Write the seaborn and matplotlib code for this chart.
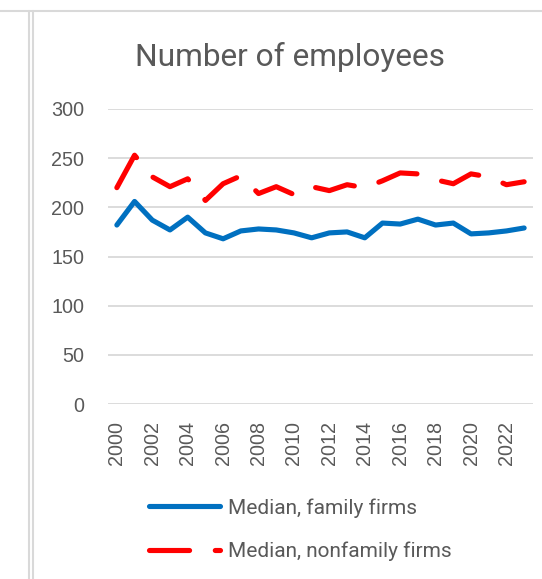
import numpy as np
import pandas as pd
import seaborn as sns
import matplotlib.pyplot as plt
from matplotlib.lines import Line2D

# =====================================================
# data
# =====================================================

YEARS = list(range(2000, 2024))

FAMILY = [182, 206, 187, 177, 190, 174, 168, 176, 178, 177, 174, 169,
          174, 175, 169, 184, 183, 188, 182, 184, 173, 174, 176, 179]

NONFAMILY = [220, 253, 231, 221, 229, 207, 224, 232, 214, 221, 213, 221,
             217, 223, 220, 227, 235, 234, 228, 224, 234, 231, 223, 226]

LABELS = ["Median, family firms", "Median, nonfamily firms"]
TICK_YEARS = list(range(2000, 2023, 2))
Y_TICKS = [0, 50, 100, 150, 200, 250, 300]

# =====================================================
# style
# =====================================================

sns.set_theme(style="white")
plt.rcParams["font.family"] = ["Liberation Sans", "DejaVu Sans"]

TEXT_COLOR = "#595959"
GRID_COLOR = "#D9D9D9"
BLUE = "#0070C0"
RED = "#FF0000"

W, H = 542, 579
fig = plt.figure(figsize=(W / 100, H / 100), dpi=100)
ax = fig.add_axes([108 / W, 1 - 404 / H, (533 - 108) / W, (404 - 109) / H])

df_family = pd.DataFrame({"year": YEARS, "value": FAMILY})
df_nonfamily = pd.DataFrame({"year": YEARS, "value": NONFAMILY})

sns.lineplot(
    data=df_family, x="year", y="value", ax=ax,
    color=BLUE, linewidth=3.7, label=LABELS[0],
    solid_capstyle="round", solid_joinstyle="round"
)

sns.lineplot(
    data=df_nonfamily, x="year", y="value", ax=ax,
    color=RED, linewidth=3.7, label=LABELS[1],
    dashes=(7.8, 5.0), dash_capstyle="round", dash_joinstyle="round"
)

# =====================================================
# axes
# =====================================================

ax.set_xlim(1999.5, 2023.5)
ax.set_ylim(0, 300)
ax.set_yticks(Y_TICKS)
ax.set_xticks(TICK_YEARS)
ax.set_xticklabels([str(y) for y in TICK_YEARS], rotation=90)
ax.set_xlabel("")
ax.set_ylabel("")

for s in ax.spines.values():
    s.set_visible(False)

ax.yaxis.grid(True, color=GRID_COLOR, linewidth=1.3)
ax.set_axisbelow(True)
ax.tick_params(axis="both", length=0, labelsize=14.2, labelcolor=TEXT_COLOR)
ax.tick_params(axis="y", pad=17)
ax.tick_params(axis="x", pad=12)

# =====================================================
# title and legend
# =====================================================

fig.text(
    290 / W, 1 - 66 / H, "Number of employees",
    ha="center", va="baseline", fontsize=22.8, color=TEXT_COLOR,
    family=["Roboto", "DejaVu Sans"]
)

leg = ax.legend(
    loc="center left", bbox_to_anchor=(149 / W, 1 - 529.5 / H),
    bbox_transform=fig.transFigure, frameon=False,
    prop={"family": "Roboto", "size": 15},
    handlelength=3.4, handletextpad=0.4, labelspacing=1.15,
    borderpad=0, borderaxespad=0
)
for t in leg.get_texts():
    t.set_color(TEXT_COLOR)

# =====================================================
# sheet frame lines
# =====================================================

fig.add_artist(Line2D([0, 1], [1 - 11 / H, 1 - 11 / H], color=GRID_COLOR, linewidth=1.5))
fig.add_artist(Line2D([29 / W, 29 / W], [0, 1 - 11 / H], color=GRID_COLOR, linewidth=1.5))
fig.add_artist(Line2D([32.5 / W, 32.5 / W], [0, 1 - 11 / H], color=GRID_COLOR, linewidth=1.5))

fig.savefig("out.png", dpi=100)
